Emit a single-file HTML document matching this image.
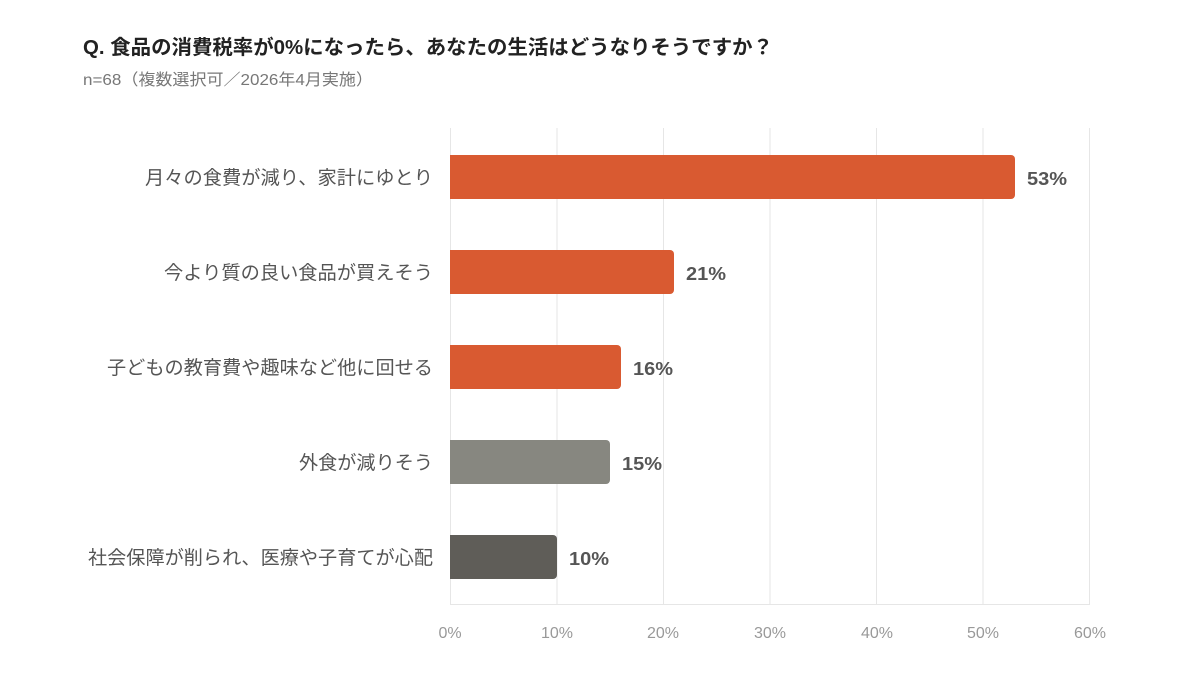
<!DOCTYPE html>
<html><head><meta charset="utf-8"><style>
body{margin:0;background:#fff;width:1200px;height:678px;overflow:hidden;font-family:"Liberation Sans","Noto Sans CJK JP",sans-serif;}
</style></head><body>
<svg width="1200" height="678" xmlns="http://www.w3.org/2000/svg" style="font-family:'Liberation Sans','Noto Sans CJK JP',sans-serif">
<text x="83" y="54" font-size="20" font-weight="bold" fill="#222" textLength="690" lengthAdjust="spacingAndGlyphs">Q. 食品の消費税率が0%になったら、あなたの生活はどうなりそうですか？</text>
<text x="83" y="85" font-size="16" fill="#777" textLength="290" lengthAdjust="spacingAndGlyphs">n=68（複数選択可／2026年4月実施）</text>
<g stroke="#e6e6e6" stroke-width="1">
<line x1="450.5" y1="128" x2="450.5" y2="605"/>
<line x1="557" y1="128" x2="557" y2="605"/>
<line x1="663.5" y1="128" x2="663.5" y2="605"/>
<line x1="770" y1="128" x2="770" y2="605"/>
<line x1="876.5" y1="128" x2="876.5" y2="605"/>
<line x1="983" y1="128" x2="983" y2="605"/>
<line x1="1089.5" y1="128" x2="1089.5" y2="605"/>
<line x1="450" y1="604.5" x2="1090" y2="604.5"/>
</g>
<g fill="#999" font-size="16" text-anchor="middle">
<text x="450" y="638">0%</text><text x="557" y="638">10%</text><text x="663" y="638">20%</text><text x="770" y="638">30%</text><text x="877" y="638">40%</text><text x="983" y="638">50%</text><text x="1090" y="638">60%</text>
</g>
<g font-size="19" fill="#555" text-anchor="end">
<text x="433" y="184" textLength="288" lengthAdjust="spacingAndGlyphs">月々の食費が減り、家計にゆとり</text>
<text x="433" y="279" textLength="269" lengthAdjust="spacingAndGlyphs">今より質の良い食品が買えそう</text>
<text x="433" y="374" textLength="326" lengthAdjust="spacingAndGlyphs">子どもの教育費や趣味など他に回せる</text>
<text x="433" y="469" textLength="134" lengthAdjust="spacingAndGlyphs">外食が減りそう</text>
<text x="433" y="564" textLength="345" lengthAdjust="spacingAndGlyphs">社会保障が削られ、医療や子育てが心配</text>
</g>
<g>
<path d="M450 155H1011a4 4 0 0 1 4 4V195a4 4 0 0 1-4 4H450Z" fill="#d95a31"/>
<path d="M450 250H670a4 4 0 0 1 4 4V290a4 4 0 0 1-4 4H450Z" fill="#d95a31"/>
<path d="M450 345H617a4 4 0 0 1 4 4V385a4 4 0 0 1-4 4H450Z" fill="#d95a31"/>
<path d="M450 440H606a4 4 0 0 1 4 4V480a4 4 0 0 1-4 4H450Z" fill="#878780"/>
<path d="M450 535H553a4 4 0 0 1 4 4V575a4 4 0 0 1-4 4H450Z" fill="#5f5d58"/>
</g>
<g font-size="18" font-weight="bold" fill="#555">
<text x="1027" y="185" textLength="40" lengthAdjust="spacingAndGlyphs">53%</text>
<text x="686" y="280" textLength="40" lengthAdjust="spacingAndGlyphs">21%</text>
<text x="633" y="375" textLength="40" lengthAdjust="spacingAndGlyphs">16%</text>
<text x="622" y="470" textLength="40" lengthAdjust="spacingAndGlyphs">15%</text>
<text x="569" y="565" textLength="40" lengthAdjust="spacingAndGlyphs">10%</text>
</g>
</svg>
</body></html>
